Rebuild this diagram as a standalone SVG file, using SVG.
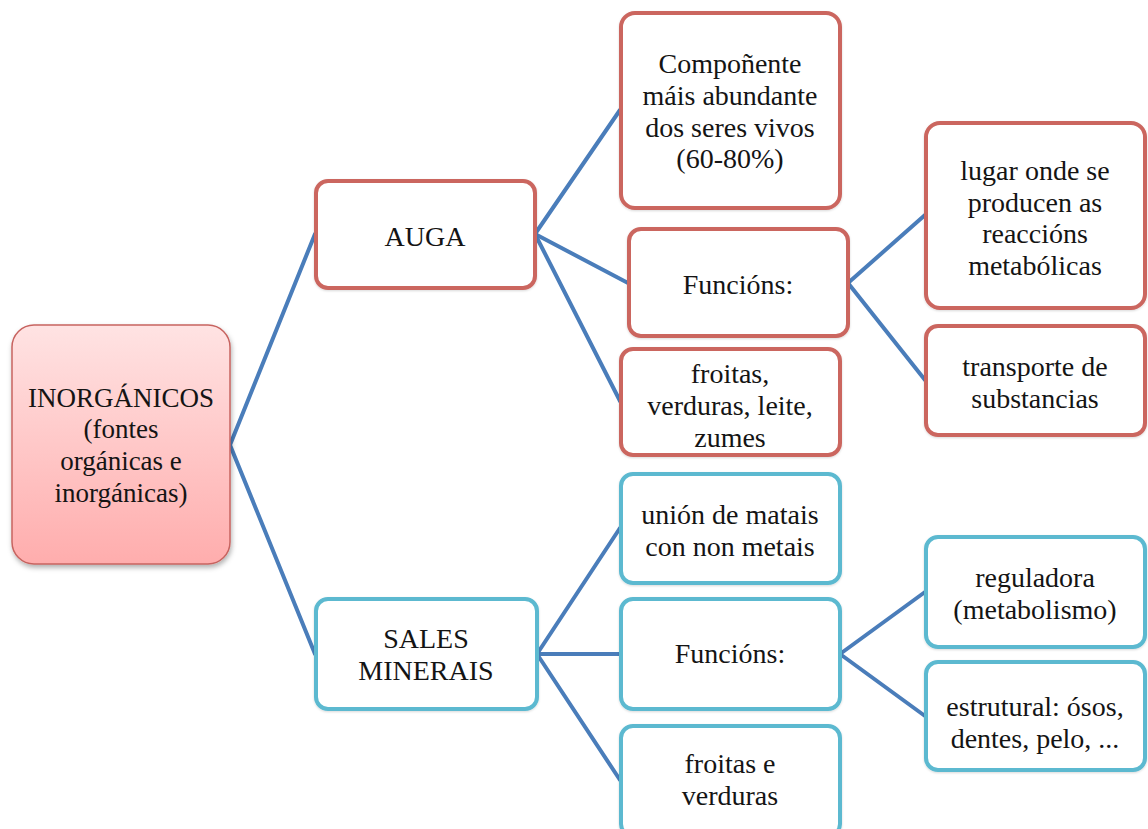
<svg xmlns="http://www.w3.org/2000/svg" width="1148" height="829" viewBox="0 0 1148 829">
<defs>
<linearGradient id="rootGrad" x1="0" y1="0" x2="0" y2="1">
<stop offset="0" stop-color="#FFE3E3"/>
<stop offset="1" stop-color="#FFADAD"/>
</linearGradient>
<filter id="shadow" x="-10%" y="-10%" width="130%" height="130%">
<feDropShadow dx="1" dy="3" stdDeviation="2.5" flood-color="#000" flood-opacity="0.3"/>
</filter>
<filter id="soft" x="-5%" y="-5%" width="115%" height="115%">
<feDropShadow dx="0" dy="1" stdDeviation="1" flood-color="#000" flood-opacity="0.15"/>
</filter>
</defs>
<style>
.t{font-family:"Liberation Serif","DejaVu Serif",serif;font-size:28px;fill:#141414;text-anchor:middle}
.r{font-size:27px}
.red{fill:#fff;stroke:#CB665F;stroke-width:4}
.cyan{fill:#fff;stroke:#5BB9D0;stroke-width:4}
.root{fill:url(#rootGrad);stroke:#C76460;stroke-width:1.5}
.c{stroke:#4A7DBA;stroke-width:4;fill:none;stroke-linecap:round}
</style>
<rect width="1148" height="829" fill="#fff"/>
<g id="connectors">
<line class="c" x1="230" y1="445" x2="315" y2="234"/>
<line class="c" x1="230" y1="445" x2="315" y2="654"/>
<line class="c" x1="535" y1="234" x2="620" y2="110"/>
<line class="c" x1="535" y1="234" x2="628" y2="283"/>
<line class="c" x1="535" y1="234" x2="620" y2="401"/>
<line class="c" x1="848" y1="283" x2="925" y2="215"/>
<line class="c" x1="848" y1="283" x2="925" y2="380"/>
<line class="c" x1="537" y1="654" x2="620" y2="528"/>
<line class="c" x1="537" y1="654" x2="620" y2="654"/>
<line class="c" x1="537" y1="654" x2="620" y2="780"/>
<line class="c" x1="840" y1="654" x2="925" y2="592"/>
<line class="c" x1="840" y1="654" x2="925" y2="716"/>
</g>
<g id="root">
<rect class="root" x="12" y="325" width="218" height="239" rx="22" filter="url(#shadow)"/>
<text class="t r" x="121" y="407">INORGÁNICOS</text>
<text class="t r" x="121" y="438">(fontes</text>
<text class="t r" x="121" y="470">orgánicas e</text>
<text class="t r" x="121" y="502">inorgánicas)</text>
</g>
<g id="auga">
<rect class="red" x="316" y="181" width="219" height="107" rx="12" filter="url(#soft)"/>
<text class="t" x="425" y="246">AUGA</text>
</g>
<g id="compoñente">
<rect class="red" x="621" y="13" width="219" height="195" rx="14" filter="url(#soft)"/>
<text class="t" x="730" y="73">Compoñente</text>
<text class="t" x="730" y="105">máis abundante</text>
<text class="t" x="730" y="137">dos seres vivos</text>
<text class="t" x="730" y="168">(60-80%)</text>
</g>
<g id="funcions-auga">
<rect class="red" x="629" y="229" width="219" height="107" rx="12" filter="url(#soft)"/>
<text class="t" x="738" y="294">Funcións:</text>
</g>
<g id="froitas-auga">
<rect class="red" x="621" y="349" width="219" height="106" rx="12" filter="url(#soft)"/>
<text class="t" x="730" y="383">froitas,</text>
<text class="t" x="730" y="415">verduras, leite,</text>
<text class="t" x="730" y="447">zumes</text>
</g>
<g id="lugar">
<rect class="red" x="926" y="123" width="219" height="185" rx="14" filter="url(#soft)"/>
<text class="t" x="1035" y="180">lugar onde se</text>
<text class="t" x="1035" y="212">producen as</text>
<text class="t" x="1035" y="243">reaccións</text>
<text class="t" x="1035" y="275">metabólicas</text>
</g>
<g id="transporte">
<rect class="red" x="926" y="326" width="219" height="109" rx="12" filter="url(#soft)"/>
<text class="t" x="1035" y="376">transporte de</text>
<text class="t" x="1035" y="408">substancias</text>
</g>
<g id="sales">
<rect class="cyan" x="316" y="599" width="221" height="110" rx="12" filter="url(#soft)"/>
<text class="t" x="426" y="648">SALES</text>
<text class="t" x="426" y="680">MINERAIS</text>
</g>
<g id="union">
<rect class="cyan" x="621" y="474" width="219" height="109" rx="12" filter="url(#soft)"/>
<text class="t" x="730" y="524">unión de matais</text>
<text class="t" x="730" y="556">con non metais</text>
</g>
<g id="funcions-sales">
<rect class="cyan" x="621" y="599" width="219" height="110" rx="12" filter="url(#soft)"/>
<text class="t" x="730" y="663">Funcións:</text>
</g>
<g id="froitas-sales">
<rect class="cyan" x="621" y="726" width="219" height="110" rx="12" filter="url(#soft)"/>
<text class="t" x="730" y="773">froitas e</text>
<text class="t" x="730" y="805">verduras</text>
</g>
<g id="reguladora">
<rect class="cyan" x="926" y="537" width="219" height="110" rx="12" filter="url(#soft)"/>
<text class="t" x="1035" y="587">reguladora</text>
<text class="t" x="1035" y="619">(metabolismo)</text>
</g>
<g id="estrutural">
<rect class="cyan" x="926" y="662" width="219" height="108" rx="12" filter="url(#soft)"/>
<text class="t" x="1035" y="716">estrutural: ósos,</text>
<text class="t" x="1035" y="748">dentes, pelo, ...</text>
</g>
</svg>
